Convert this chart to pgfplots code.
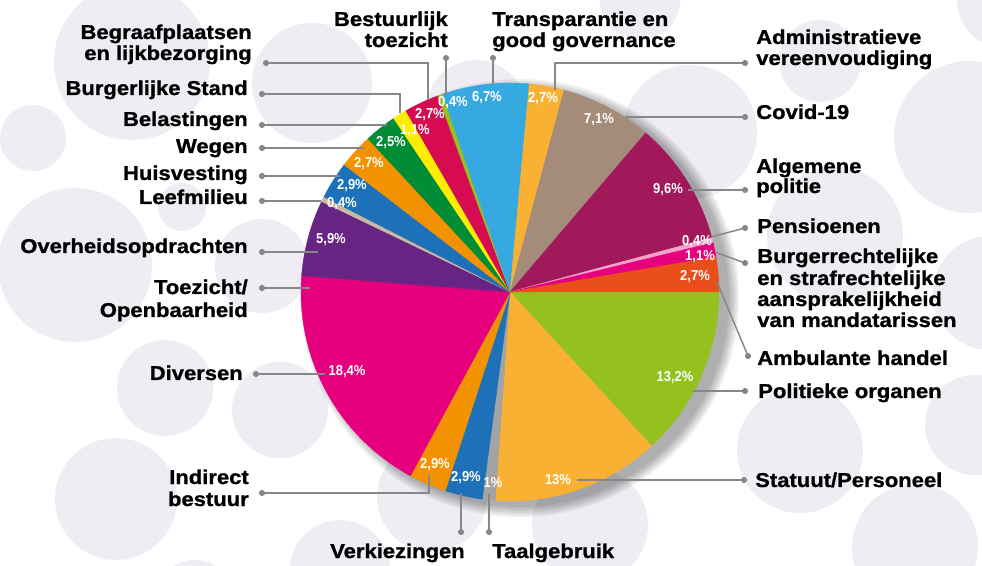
\documentclass[border=0pt]{standalone}
\usepackage{pgfplots}
\usepackage{pgfplotstable}
\pgfplotsset{compat=1.18}
\usepackage{fontspec}
\setmainfont{Liberation Sans}
\newfontfamily\labfont[FakeStretch=1.1,FakeBold=1.1]{Liberation Sans}
\newfontfamily\pctfont[FakeStretch=0.9]{Liberation Sans}

\definecolor{cPol}{HTML}{95C11F}
\definecolor{cStat}{HTML}{F8B133}
\definecolor{cTaal}{HTML}{A3A3A3}
\definecolor{cVerk}{HTML}{1D71B8}
\definecolor{cInd}{HTML}{F39200}
\definecolor{cDiv}{HTML}{E6007E}
\definecolor{cOver}{HTML}{662483}
\definecolor{cLeef}{HTML}{C9B8A6}
\definecolor{cHuis}{HTML}{1D71B8}
\definecolor{cWeg}{HTML}{F39200}
\definecolor{cBel}{HTML}{008D36}
\definecolor{cBurg}{HTML}{FFED00}
\definecolor{cBegr}{HTML}{D60B52}
\definecolor{cBest}{HTML}{95C11F}
\definecolor{cTrans}{HTML}{36A9E1}
\definecolor{cAdm}{HTML}{F8B133}
\definecolor{cCov}{HTML}{A58B7A}
\definecolor{cAlg}{HTML}{A2195B}
\definecolor{cPens}{HTML}{F5A3C7}
\definecolor{cBurgR}{HTML}{E6007E}
\definecolor{cAmb}{HTML}{E94E1B}
\definecolor{lc}{HTML}{878787}
\definecolor{bgcol}{RGB}{239,237,243}

\pgfplotstableread{
val col
13.2 cPol
13.0 cStat
1.0 cTaal
2.9 cVerk
2.9 cInd
18.4 cDiv
5.9 cOver
0.4 cLeef
2.9 cHuis
2.7 cWeg
2.5 cBel
1.1 cBurg
2.7 cBegr
0.4 cBest
6.7 cTrans
2.7 cAdm
7.1 cCov
9.6 cAlg
0.4 cPens
1.1 cBurgR
2.7 cAmb
}\piedata

\tikzset{
  lab/.style={font=\labfont\bfseries\fontsize{15}{16}\selectfont, inner sep=0pt, text=black},
  pct/.style={font=\pctfont\bfseries\fontsize{10.8}{12}\selectfont, text=white, inner sep=0pt},
  lead/.style={draw=lc, line width=1.1pt},
}
\newcommand{\bgc}[3]{\fill[bgcol] (#1,#2) circle[radius={#3*0.75pt}];}
\newcommand{\dotat}[2]{\fill[lc] (#1,#2) circle[radius=2.3pt];}

\begin{document}
\begin{tikzpicture}
\useasboundingbox (0,0) rectangle (736.5pt,424.5pt);
\clip (0,0) rectangle (736.5pt,424.5pt);
\fill[white] (0,0) rectangle (736.5pt,424.5pt);
\begin{axis}[at={(0pt,0pt)}, anchor=south west, scale only axis,
  width=736.5pt, height=424.5pt, xmin=0, xmax=982, ymin=0, ymax=566,
  y dir=reverse, hide axis, clip=false]

% background circles
\bgc{132}{62}{78}
\bgc{33}{138}{33}
\bgc{312}{83}{60}
\bgc{182}{207}{24}
\bgc{75}{265}{77}
\bgc{262}{266}{47}
\bgc{165}{388}{48}
\bgc{280}{410}{48}
\bgc{116}{499}{61}
\bgc{340}{570}{50}
\bgc{195}{600}{40}
\bgc{432}{497}{55}
\bgc{590}{525}{58}
\bgc{800}{450}{63}
\bgc{915}{547}{63}
\bgc{975}{425}{50}
\bgc{990}{293}{57}
\bgc{970}{137}{76}
\bgc{1005}{0}{48}
\bgc{820}{61}{41}
\bgc{690}{132}{67}
\bgc{835}{235}{68}
\bgc{476}{110}{50}
\bgc{640}{0}{40}

% shadow
\pgfplotsinvokeforeach{0,2,4,6,8,10}{\fill[black, opacity=0.06] (520,298) circle[radius={(209+#1)*0.75pt}];}

% pie slices
\pgfplotstablegetrowsof{\piedata}
\pgfmathtruncatemacro{\lastrow}{\pgfplotsretval-1}
\def\total{0}
\pgfplotsforeachungrouped \i in {0,...,\lastrow}{%
  \pgfplotstablegetelem{\i}{val}\of\piedata
  \pgfmathsetmacro{\total}{\total+\pgfplotsretval}}
\def\cum{0}
\pgfplotsforeachungrouped \i in {0,...,\lastrow}{%
  \pgfplotstablegetelem{\i}{val}\of\piedata
  \let\sliceval\pgfplotsretval
  \pgfplotstablegetelem{\i}{col}\of\piedata
  \let\slicecol\pgfplotsretval
  \pgfmathsetmacro{\angA}{\cum/\total*360}
  \pgfmathsetmacro{\cum}{\cum+\sliceval}
  \pgfmathsetmacro{\angB}{\cum/\total*360}
  \edef\temp{\noexpand\addplot[fill=\slicecol, draw=\slicecol, line width=0.3pt, domain=\angA:\angB, samples=60] ({510+209*cos(x)},{292+209*sin(x)}) -- (510,292) -- cycle;}
  \temp
}

% percentage labels
\node[pct] at (675,378) {13,2\%};
\node[pct] at (558,480) {13\%};
\node[pct] at (493,483) {1\%};
\node[pct] at (466,478) {2,9\%};
\node[pct] at (435,465) {2,9\%};
\node[pct] at (347,372) {18,4\%};
\node[pct] at (331,240) {5,9\%};
\node[pct] at (342,204) {0,4\%};
\node[pct] at (352,186) {2,9\%};
\node[pct] at (369,164) {2,7\%};
\node[pct] at (391,143) {2,5\%};
\node[pct] at (415,131) {1,1\%};
\node[pct] at (430,115) {2,7\%};
\node[pct] at (453,103) {0,4\%};
\node[pct] at (487,98) {6,7\%};
\node[pct] at (543,99) {2,7\%};
\node[pct] at (599,120) {7,1\%};
\node[pct] at (668,190) {9,6\%};
\node[pct] at (697,242) {0,4\%};
\node[pct] at (700,257) {1,1\%};
\node[pct] at (695,277) {2,7\%};

% leader lines (left)
\draw[lead] (266,63) -- (428,63) -- (428,100); \dotat{266}{63}
\draw[lead] (262,94) -- (400,94) -- (400,113); \dotat{262}{94}
\draw[lead] (262,125) -- (387,125); \dotat{262}{125}
\draw[lead] (262,148) -- (365,148); \dotat{262}{148}
\draw[lead] (262,176) -- (340,176); \dotat{262}{176}
\draw[lead] (262,201) -- (321,201); \dotat{262}{201}
\draw[lead] (262,252) -- (318,252); \dotat{262}{252}
\draw[lead] (262,288) -- (310,288); \dotat{262}{288}
\draw[lead] (256,374) -- (325,374); \dotat{256}{374}
\draw[lead] (262,493) -- (429,493) -- (429,475); \dotat{262}{493}
% top
\draw[lead] (446,58) -- (446,95); \dotat{446}{58}
\draw[lead] (493,58) -- (493,85); \dotat{493}{58}
% right
\draw[lead] (745,63) -- (555,63) -- (555,90); \dotat{745}{63}
\draw[lead] (745,117) -- (625,117); \dotat{745}{117}
\draw[lead] (745,190) -- (688,190); \dotat{745}{190}
\draw[lead] (711,237) -- (745,228); \dotat{745}{228}
\draw[lead] (715,252) -- (745,263); \dotat{745}{263}
\draw[lead] (717,282) -- (748,356); \dotat{748}{356}
\draw[lead] (693,391) -- (745,391); \dotat{745}{391}
\draw[lead] (577,480) -- (744,480); \dotat{744}{480}
% bottom
\draw[lead] (461,493) -- (461,532); \dotat{461}{532}
\draw[lead] (489,494) -- (489,532); \dotat{489}{532}

% category labels (left)
\node[lab, anchor=base east] at (252,39) {Begraafplaatsen};
\node[lab, anchor=base east] at (252,60) {en lijkbezorging};
\node[lab, anchor=base east] at (248,95) {Burgerlijke Stand};
\node[lab, anchor=base east] at (248,126) {Belastingen};
\node[lab, anchor=base east] at (248,153) {Wegen};
\node[lab, anchor=base east] at (248,180) {Huisvesting};
\node[lab, anchor=base east] at (248,204) {Leefmilieu};
\node[lab, anchor=base east] at (248,253) {Overheidsopdrachten};
\node[lab, anchor=base east] at (248,294) {Toezicht/};
\node[lab, anchor=base east] at (248,317) {Openbaarheid};
\node[lab, anchor=base east] at (243,380) {Diversen};
\node[lab, anchor=base east] at (249,484) {Indirect};
\node[lab, anchor=base east] at (249,506) {bestuur};
% top
\node[lab, anchor=base east] at (448,26) {Bestuurlijk};
\node[lab, anchor=base east] at (448,47) {toezicht};
\node[lab, anchor=base west] at (492,26) {Transparantie en};
\node[lab, anchor=base west] at (492,47) {good governance};
% right
\node[lab, anchor=base west] at (756,44) {Administratieve};
\node[lab, anchor=base west] at (756,65) {vereenvoudiging};
\node[lab, anchor=base west] at (756,119) {Covid-19};
\node[lab, anchor=base west] at (756,173) {Algemene};
\node[lab, anchor=base west] at (756,193) {politie};
\node[lab, anchor=base west] at (757,233) {Pensioenen};
\node[lab, anchor=base west] at (757,263) {Burgerrechtelijke};
\node[lab, anchor=base west] at (757,285) {en strafrechtelijke};
\node[lab, anchor=base west] at (757,306) {aansprakelijkheid};
\node[lab, anchor=base west] at (757,327) {van mandatarissen};
\node[lab, anchor=base west] at (757,365) {Ambulante handel};
\node[lab, anchor=base west] at (758,398) {Politieke organen};
\node[lab, anchor=base west] at (755,487) {Statuut/Personeel};
% bottom
\node[lab, anchor=base east] at (465,558) {Verkiezingen};
\node[lab, anchor=base west] at (492,558) {Taalgebruik};
\end{axis}
\end{tikzpicture}
\end{document}
